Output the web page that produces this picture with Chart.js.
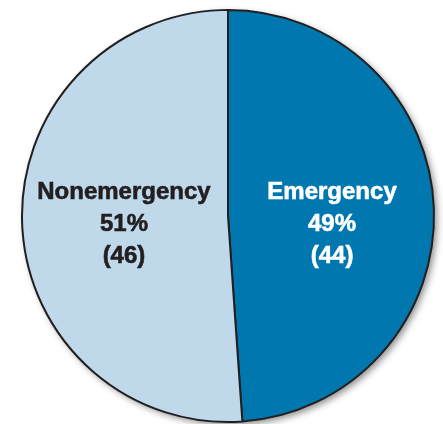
<!DOCTYPE html>
<html>
<head>
<meta charset="utf-8">
<script src="https://cdn.jsdelivr.net/npm/chart.js@4"></script>
<style>
  html, body { margin: 0; padding: 0; background: #ffffff; }
  #wrap { position: relative; width: 443px; height: 424px; }
</style>
</head>
<body>
<div id="wrap"><canvas id="c"></canvas></div>
<script>
const categories = ["Emergency", "Nonemergency"];
const counts = [44, 46];
const sliceColors = ["#0077ae", "#bfd9eb"];
const labelColors = ["#ffffff", "#231f20"];

const total = counts.reduce((a, b) => a + b, 0);

const shadowPlugin = {
  id: 'shadow',
  beforeDatasetsDraw(chart) {
    const arc = chart.getDatasetMeta(0).data[0];
    if (!arc) return;
    const ctx = chart.ctx;
    ctx.save();
    ctx.shadowColor = 'rgba(0,0,0,0.45)';
    ctx.shadowBlur = 7;
    ctx.shadowOffsetX = 3;
    ctx.shadowOffsetY = 3;
    ctx.beginPath();
    ctx.arc(arc.x, arc.y, arc.outerRadius, 0, Math.PI * 2);
    ctx.fillStyle = '#ffffff';
    ctx.fill();
    ctx.restore();
  }
};

const labelPlugin = {
  id: 'sliceLabels',
  afterDatasetsDraw(chart) {
    const meta = chart.getDatasetMeta(0);
    const ctx = chart.ctx;
    ctx.save();
    ctx.textAlign = 'center';
    ctx.textBaseline = 'middle';
    ctx.font = 'bold 24px "Liberation Sans", Arial, sans-serif';
    meta.data.forEach((arc, i) => {
      const r = arc.outerRadius;
      const mid = (arc.startAngle + arc.endAngle) / 2;
      const side = Math.cos(mid) >= 0 ? 1 : -1;
      const x = arc.x + side * 0.505 * r;
      const y0 = arc.y - 0.115 * r;
      const pct = Math.round(counts[i] / total * 100) + '%';
      const lines = [categories[i], pct, '(' + counts[i] + ')'];
      ctx.fillStyle = labelColors[i];
      ctx.strokeStyle = labelColors[i];
      ctx.lineWidth = 0.6;
      lines.forEach((t, k) => {
        ctx.fillText(t, x, y0 + k * 32);
        ctx.strokeText(t, x, y0 + k * 32);
      });
    });
    ctx.restore();
  }
};

new Chart(document.getElementById('c'), {
  type: 'pie',
  data: {
    labels: categories,
    datasets: [{
      data: counts,
      backgroundColor: sliceColors,
      borderColor: '#231f20',
      borderWidth: 2,
      borderAlign: 'center'
    }]
  },
  options: {
    responsive: true,
    maintainAspectRatio: false,
    animation: false,
    layout: { padding: { left: 21, right: 8, top: 9, bottom: 1 } },
    plugins: {
      legend: { display: false },
      tooltip: { enabled: false }
    }
  },
  plugins: [shadowPlugin, labelPlugin]
});
</script>
</body>
</html>
